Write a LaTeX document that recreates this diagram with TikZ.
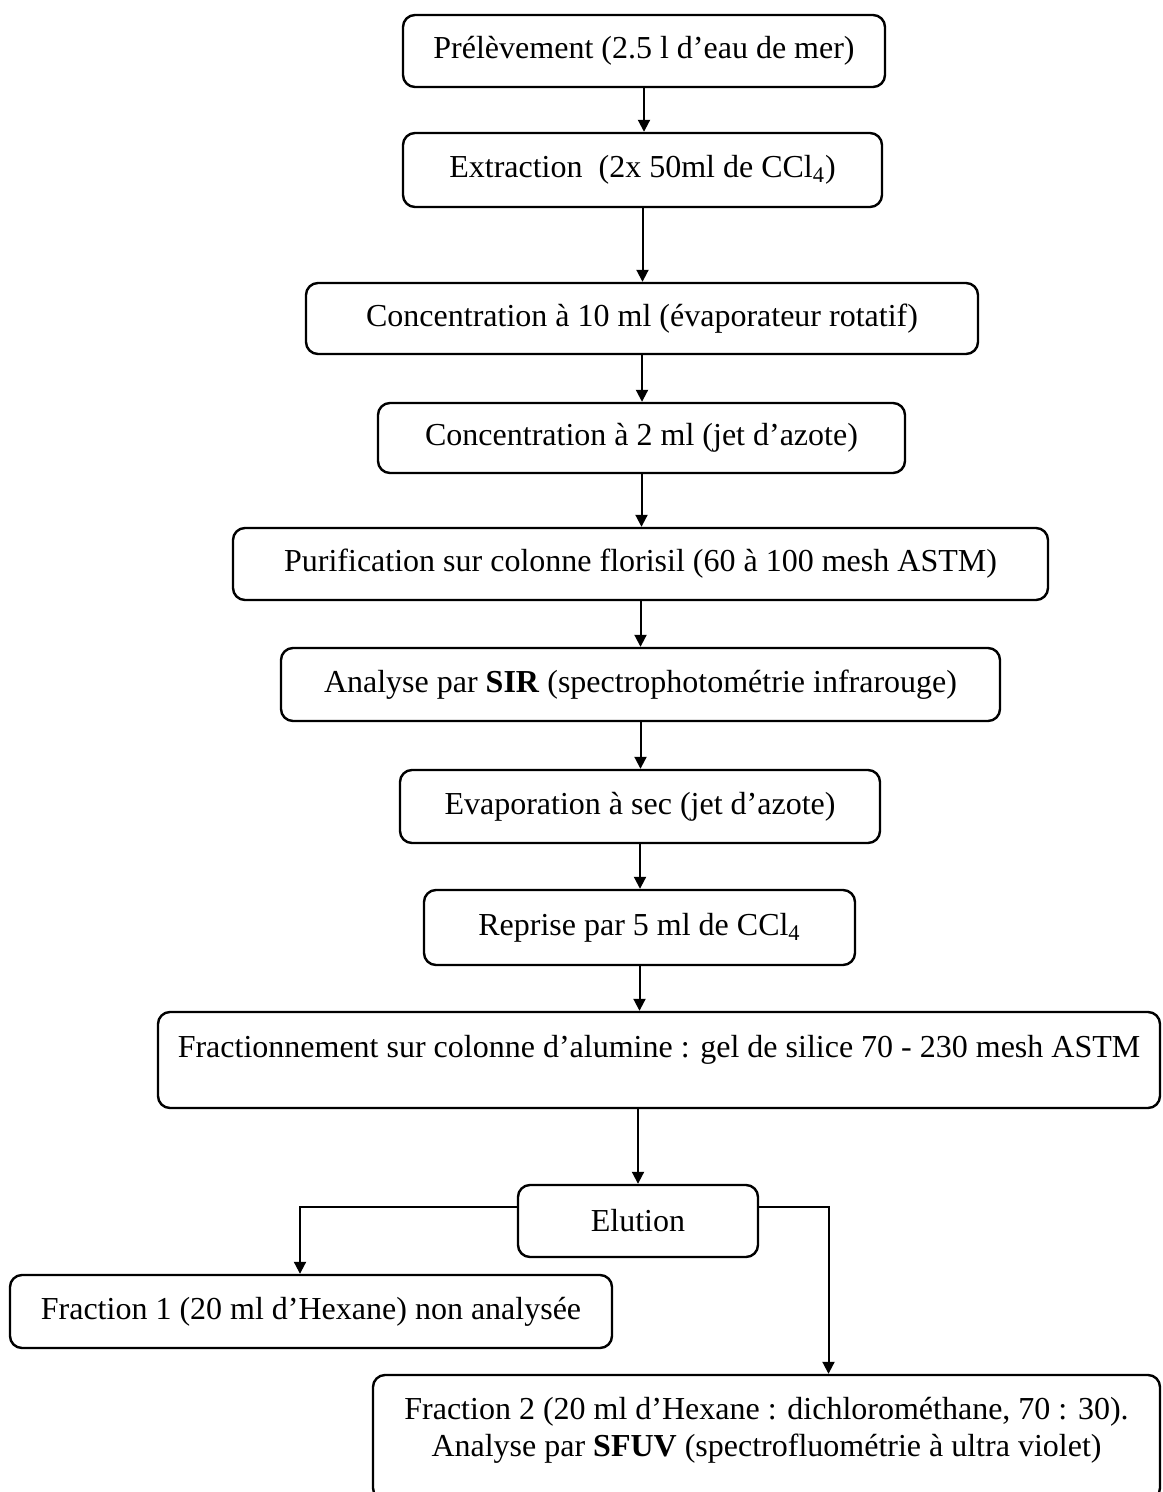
\documentclass[tikz,border=0pt]{standalone}
\usepackage{fontspec}
\setmainfont{Liberation Serif}
\usetikzlibrary{arrows.meta}

\begin{document}
\begin{tikzpicture}[
    x=0.5pt, y=-0.5pt,
    box/.style={
        draw=black, line width=1.2pt, rounded corners=6pt, fill=white, align=center,
        font=\fontsize{16}{18.5}\selectfont, minimum height=36pt, inner sep=0pt
    },
    arrow/.style={-{Triangle[length=6pt, width=6pt]}, line width=1pt, color=black}
]
    \useasboundingbox (0,0) rectangle (1162,1492);
    \node[box, minimum width=241pt] (prelev) at (644,51) {Prélèvement (2.5 l d’eau de mer)};
    \node[box, minimum width=239.5pt, minimum height=37pt] (extract) at (642.5,170) {Extraction\ \ (2x 50ml de CCl\textsubscript{4})};
    \node[box, minimum width=336pt, minimum height=35.5pt] (conc10) at (642,318.5) {Concentration à 10 ml (évaporateur rotatif)};
    \node[box, minimum width=263.5pt, minimum height=35pt] (conc2) at (641.5,438) {Concentration à 2 ml (jet d’azote)};
    \node[box, minimum width=407.5pt] (purif) at (640.5,564) {Purification sur colonne florisil (60 à 100 mesh ASTM)};
    \node[box, minimum width=359.5pt, minimum height=36.5pt] (sir) at (640.5,684.5) {Analyse par \textbf{SIR} (spectrophotométrie infrarouge)};
    \node[box, minimum width=240pt, minimum height=36.5pt] (evap) at (640,806.5) {Evaporation à sec (jet d’azote)};
    \node[box, minimum width=215.5pt, minimum height=37.5pt] (reprise) at (639.5,927.5) {Reprise par 5 ml de CCl\textsubscript{4}};
    \node[box, minimum width=501pt, minimum height=48pt, text depth=14pt] (fract) at (659,1060) {Fractionnement sur colonne d’alumine : gel de silice 70 - 230 mesh ASTM};
    \node[box, minimum width=120pt] (elution) at (638,1221) {Elution};
    \node[box, minimum width=301pt, minimum height=36.5pt] (frac1) at (311,1311.5) {Fraction 1 (20 ml d’Hexane) non analysée};
    \node[box, minimum width=393.5pt, minimum height=62.5pt, text depth=10.5pt] (frac2) at (766.5,1437.5) {Fraction 2 (20 ml d’Hexane : dichlorométhane, 70 : 30).\\Analyse par \textbf{SFUV} (spectrofluométrie à ultra violet)};

    \draw[arrow] (prelev.south) -- (prelev.south |- extract.north);
    \draw[arrow] (extract.south) -- (extract.south |- conc10.north);
    \draw[arrow] (conc10.south) -- (conc10.south |- conc2.north);
    \draw[arrow] (conc2.south) -- (conc2.south |- purif.north);
    \draw[arrow] (purif.south) -- (purif.south |- sir.north);
    \draw[arrow] (sir.south) -- (sir.south |- evap.north);
    \draw[arrow] (evap.south) -- (evap.south |- reprise.north);
    \draw[arrow] (reprise.south) -- (reprise.south |- fract.north);
    \draw[arrow] (fract.south -| elution.north) -- (elution.north);
    \draw[arrow] ([yshift=7pt]elution.west) -| ([xshift=-5.5pt]frac1.north);
    \draw[arrow] ([yshift=7pt]elution.east) -| ([xshift=31pt]frac2.north);
\end{tikzpicture}
\end{document}
